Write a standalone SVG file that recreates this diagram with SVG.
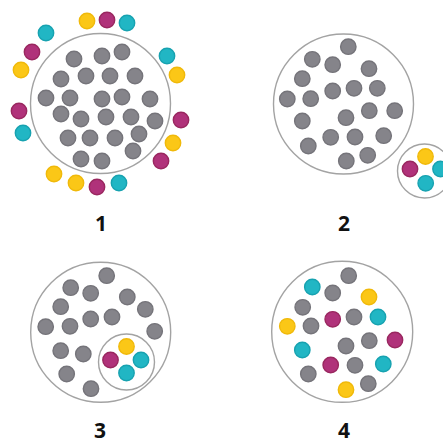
<svg xmlns="http://www.w3.org/2000/svg" width="443" height="440" viewBox="0 0 443 440">
<style>
.ring{fill:none;stroke:#a3a3a3;stroke-width:1.4}
.g{fill:#85848a;stroke:#75747a;stroke-width:1.4}
.y{fill:#fbc717;stroke:#f0b90a;stroke-width:1.4}
.m{fill:#b0327a;stroke:#99275f;stroke-width:1.4}
.c{fill:#21b6c4;stroke:#17a2b0;stroke-width:1.4}
.lbl{font-family:"Open Sans","Liberation Sans",sans-serif;font-weight:bold;font-size:21px;fill:#111;text-anchor:middle}
</style>
<rect width="443" height="440" fill="#fff"/>
<g id="panel1">
<circle class="ring" cx="100.5" cy="103.5" r="70"/>
<g>
<circle class="g" cx="74" cy="59" r="7.7"/><circle class="g" cx="102" cy="56" r="7.7"/><circle class="g" cx="122" cy="52" r="7.7"/>
<circle class="g" cx="61" cy="79" r="7.7"/><circle class="g" cx="86" cy="76" r="7.7"/><circle class="g" cx="110" cy="76" r="7.7"/><circle class="g" cx="135" cy="76" r="7.7"/>
<circle class="g" cx="46" cy="98" r="7.7"/><circle class="g" cx="70" cy="98" r="7.7"/><circle class="g" cx="102" cy="99" r="7.7"/><circle class="g" cx="122" cy="97" r="7.7"/><circle class="g" cx="150" cy="99" r="7.7"/>
<circle class="g" cx="61" cy="114" r="7.7"/><circle class="g" cx="81" cy="119" r="7.7"/><circle class="g" cx="106" cy="117" r="7.7"/><circle class="g" cx="131" cy="117" r="7.7"/><circle class="g" cx="155" cy="121" r="7.7"/>
<circle class="g" cx="68" cy="138" r="7.7"/><circle class="g" cx="90" cy="138" r="7.7"/><circle class="g" cx="115" cy="138" r="7.7"/><circle class="g" cx="139" cy="134" r="7.7"/>
<circle class="g" cx="133" cy="151" r="7.7"/><circle class="g" cx="81" cy="159" r="7.7"/><circle class="g" cx="102" cy="161" r="7.7"/>
</g>
<g>
<circle class="y" cx="87" cy="21" r="7.7"/><circle class="m" cx="107" cy="20" r="7.7"/><circle class="c" cx="127" cy="23" r="7.7"/>
<circle class="c" cx="46" cy="33" r="7.7"/><circle class="m" cx="32" cy="52" r="7.7"/><circle class="y" cx="21" cy="70" r="7.7"/>
<circle class="c" cx="167" cy="56" r="7.7"/><circle class="y" cx="177" cy="75" r="7.7"/>
<circle class="m" cx="19" cy="111" r="7.7"/><circle class="c" cx="23" cy="133" r="7.7"/>
<circle class="m" cx="181" cy="120" r="7.7"/><circle class="y" cx="173" cy="143" r="7.7"/><circle class="m" cx="161" cy="161" r="7.7"/>
<circle class="y" cx="54" cy="174" r="7.7"/><circle class="y" cx="76" cy="183" r="7.7"/><circle class="m" cx="97" cy="187" r="7.7"/><circle class="c" cx="119" cy="183" r="7.7"/>
</g>
<text class="lbl" x="101" y="231">1</text>
</g>
<g id="panel2">
<circle class="ring" cx="343.5" cy="104" r="70"/>
<g>
<circle class="g" cx="348.3" cy="46.7" r="7.7"/><circle class="g" cx="312.3" cy="59.3" r="7.7"/><circle class="g" cx="332.7" cy="64.7" r="7.7"/><circle class="g" cx="369" cy="68.7" r="7.7"/>
<circle class="g" cx="302.3" cy="78.7" r="7.7"/><circle class="g" cx="287.3" cy="99" r="7.7"/><circle class="g" cx="310.7" cy="98.7" r="7.7"/><circle class="g" cx="332.7" cy="91" r="7.7"/>
<circle class="g" cx="354" cy="88.3" r="7.7"/><circle class="g" cx="377.3" cy="88.3" r="7.7"/><circle class="g" cx="394.7" cy="110.7" r="7.7"/><circle class="g" cx="369.3" cy="110.7" r="7.7"/>
<circle class="g" cx="346" cy="117.7" r="7.7"/><circle class="g" cx="302.3" cy="121" r="7.7"/><circle class="g" cx="308.3" cy="146" r="7.7"/><circle class="g" cx="330.7" cy="137.3" r="7.7"/>
<circle class="g" cx="355" cy="137" r="7.7"/><circle class="g" cx="383.7" cy="135.7" r="7.7"/><circle class="g" cx="367.7" cy="155.3" r="7.7"/><circle class="g" cx="346.3" cy="161" r="7.7"/>
</g>
<circle class="ring" cx="424.5" cy="171" r="27"/>
<circle class="y" cx="425.5" cy="156.5" r="7.7"/><circle class="m" cx="410" cy="169" r="7.7"/><circle class="c" cx="440.5" cy="169" r="7.7"/><circle class="c" cx="425.7" cy="183.3" r="7.7"/>
<text class="lbl" x="344" y="231">2</text>
</g>
<g id="panel3">
<circle class="ring" cx="100.7" cy="332.3" r="70"/>
<g>
<circle class="g" cx="106.7" cy="275.7" r="7.7"/><circle class="g" cx="70.7" cy="287.7" r="7.7"/><circle class="g" cx="90.7" cy="293.3" r="7.7"/><circle class="g" cx="127.3" cy="297" r="7.7"/>
<circle class="g" cx="60.7" cy="306.7" r="7.7"/><circle class="g" cx="145.3" cy="309.3" r="7.7"/><circle class="g" cx="90.7" cy="319" r="7.7"/><circle class="g" cx="112" cy="317" r="7.7"/>
<circle class="g" cx="45.7" cy="326.7" r="7.7"/><circle class="g" cx="70" cy="326.3" r="7.7"/><circle class="g" cx="154.7" cy="331.3" r="7.7"/><circle class="g" cx="60.7" cy="350.7" r="7.7"/>
<circle class="g" cx="83.3" cy="354" r="7.7"/><circle class="g" cx="66.7" cy="374" r="7.7"/><circle class="g" cx="91" cy="388.7" r="7.7"/>
</g>
<circle class="ring" cx="126.5" cy="362" r="28"/>
<circle class="y" cx="126.5" cy="346.5" r="7.7"/><circle class="m" cx="110.5" cy="360" r="7.7"/><circle class="c" cx="141" cy="360" r="7.7"/><circle class="c" cx="126.5" cy="373" r="7.7"/>
<text class="lbl" x="100" y="438">3</text>
</g>
<g id="panel4">
<circle class="ring" cx="342.2" cy="331.8" r="70.5"/>
<circle class="g" cx="348.7" cy="275.7" r="7.7"/><circle class="c" cx="312.3" cy="287" r="7.7"/><circle class="g" cx="332.7" cy="293" r="7.7"/><circle class="y" cx="369" cy="297" r="7.7"/>
<circle class="g" cx="302.7" cy="307.3" r="7.7"/><circle class="m" cx="332.7" cy="319.3" r="7.7"/><circle class="g" cx="354" cy="317" r="7.7"/><circle class="c" cx="378" cy="317" r="7.7"/>
<circle class="y" cx="287.3" cy="326.3" r="7.7"/><circle class="g" cx="311" cy="326" r="7.7"/><circle class="g" cx="369.3" cy="340.7" r="7.7"/><circle class="m" cx="395" cy="340" r="7.7"/>
<circle class="g" cx="346" cy="346" r="7.7"/><circle class="c" cx="302.3" cy="350" r="7.7"/><circle class="m" cx="330.7" cy="365" r="7.7"/><circle class="g" cx="355" cy="365.3" r="7.7"/>
<circle class="c" cx="383.3" cy="364" r="7.7"/><circle class="g" cx="308.3" cy="374" r="7.7"/><circle class="y" cx="346" cy="389.7" r="7.7"/><circle class="g" cx="368.3" cy="383.7" r="7.7"/>
<text class="lbl" x="344" y="438">4</text>
</g>
</svg>
